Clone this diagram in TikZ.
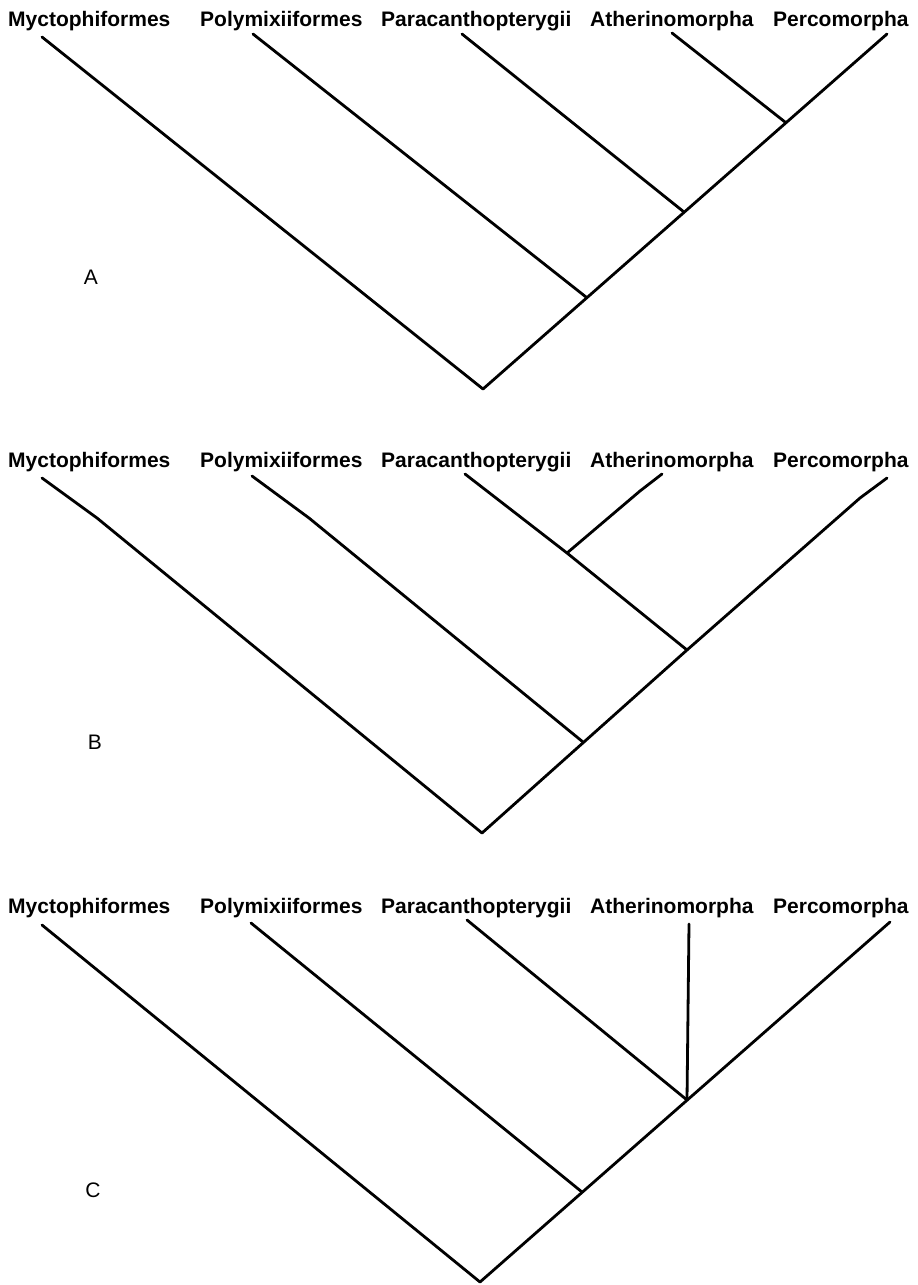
\documentclass[tikz,border=0pt]{standalone}
\usepackage{fontspec}
\setmainfont{Liberation Sans}
\usepackage{tikz}
\tikzset{
  branch/.style={line width=2.8pt, line cap=round, line join=round},
  taxon/.style={font=\fontsize{21}{24}\selectfont\bfseries, anchor=base west, inner sep=0pt},
  panel/.style={font=\fontsize{21}{24}\selectfont, inner sep=0pt}
}

\begin{document}
\begin{tikzpicture}[x=1pt,y=-1pt]
  \useasboundingbox (0,0) rectangle (918,1285);

  % A
  \node[taxon] (aMyct) at (8,26) {Myctophiformes};
  \node[taxon] (aPoly) at (200,26) {Polymixiiformes};
  \node[taxon] (aPara) at (381,26) {Paracanthopterygii};
  \node[taxon] (aAth) at (590,26) {Atherinomorpha};
  \node[taxon] (aPerc) at (773,26) {Percomorpha};
  \coordinate (aMyctT) at (42,37); \coordinate (aPolyT) at (253,34); \coordinate (aParaT) at (462,34);
  \coordinate (aAthT) at (672,33); \coordinate (aPercT) at (887,34);
  \coordinate (aR) at (483,389); \coordinate (aN1) at (586,297);
  \coordinate (aN2) at (684,212); \coordinate (aN3) at (785,122);

  \draw[branch] (aMyctT) -- (aR) -- (aPercT);
  \draw[branch] (aPolyT) -- (aN1);
  \draw[branch] (aParaT) -- (aN2);
  \draw[branch] (aAthT) -- (aN3);
  \node[panel] (lblA) at (91,277) {A};

  % B
  \node[taxon] (bMyct) at (8,467) {Myctophiformes};
  \node[taxon] (bPoly) at (200,467) {Polymixiiformes};
  \node[taxon] (bPara) at (381,467) {Paracanthopterygii};
  \node[taxon] (bAth) at (590,467) {Atherinomorpha};
  \node[taxon] (bPerc) at (773,467) {Percomorpha};
  \coordinate (bMyctT) at (42,478); \coordinate (bPolyT) at (252,476); \coordinate (bParaT) at (465,474);
  \coordinate (bAthT) at (662,474); \coordinate (bPercT) at (887,478);
  \coordinate (bR) at (482,833); \coordinate (bN1) at (583,742);
  \coordinate (bN2) at (687,650); \coordinate (bN3) at (567,553);

  \draw[branch] (bMyctT) -- (97,518) -- (bR) -- (bN2) -- (860,498) -- (bPercT);
  \draw[branch] (bPolyT) -- (309,518) -- (bN1);
  \draw[branch] (bParaT) -- (bN3) -- (bN2);
  \draw[branch] (bN3) -- (640,491) -- (bAthT);
  \node[panel] (lblB) at (95,742) {B};

  % C
  \node[taxon] (cMyct) at (8,913) {Myctophiformes};
  \node[taxon] (cPoly) at (200,913) {Polymixiiformes};
  \node[taxon] (cPara) at (381,913) {Paracanthopterygii};
  \node[taxon] (cAth) at (590,913) {Atherinomorpha};
  \node[taxon] (cPerc) at (773,913) {Percomorpha};
  \coordinate (cMyctT) at (42,925); \coordinate (cPolyT) at (251,923); \coordinate (cParaT) at (467,920);
  \coordinate (cAthT) at (689,924); \coordinate (cPercT) at (890,922);
  \coordinate (cR) at (480,1282); \coordinate (cN1) at (582,1192);
  \coordinate (cN2) at (687,1100);

  \draw[branch] (cMyctT) -- (cR) -- (cPercT);
  \draw[branch] (cPolyT) -- (cN1);
  \draw[branch] (cParaT) -- (cN2);
  \draw[branch] (cAthT) -- (cN2);
  \node[panel] (lblC) at (93,1190) {C};
\end{tikzpicture}
\end{document}
